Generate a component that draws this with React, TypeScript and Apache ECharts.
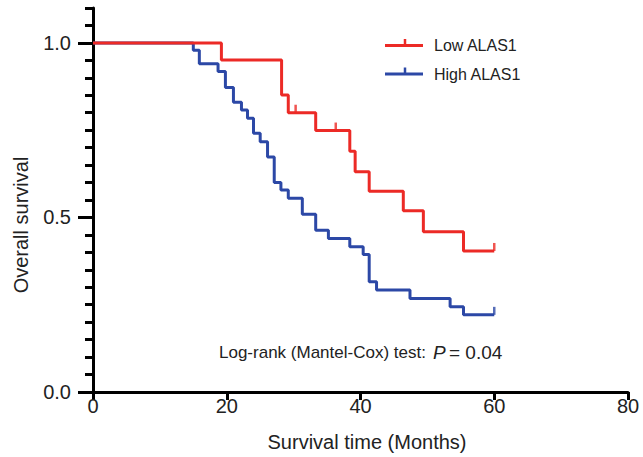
import React, { useEffect, useRef } from "react";
import * as echarts from "echarts";

// ---- Data ----
const seriesNames = ["Low ALAS1", "High ALAS1"];

const lowTimes = [0, 19.2, 28.2, 29.2, 33.3, 38.4, 39.2, 41.3, 46.4, 49.4, 55.4, 60];
const lowSurv = [1.0, 0.951, 0.851, 0.8, 0.749, 0.69, 0.631, 0.575, 0.519, 0.459, 0.404, 0.404];
const lowCensorTimes = [30.3, 36.3, 60];

const highTimes = [0, 15.0, 15.9, 18.7, 19.8, 21.0, 22.2, 23.1, 24.0, 25.0, 26.1, 27.1, 28.1, 29.2, 31.3, 33.3, 35.2, 38.4, 40.4, 41.3, 42.4, 47.4, 53.4, 55.4, 60];
const highSurv = [1.0, 0.979, 0.94, 0.918, 0.872, 0.83, 0.808, 0.784, 0.741, 0.717, 0.673, 0.6, 0.579, 0.555, 0.509, 0.463, 0.44, 0.416, 0.394, 0.316, 0.292, 0.268, 0.244, 0.221, 0.221];
const highCensorTimes = [60];

const xTicks = [0, 20, 40, 60, 80];
const yMajorTicks = [0, 0.5, 1.0];
const yMax = 1.1;
const yMinorStep = 0.05;

const annotationText = "Log-rank (Mantel-Cox) test:";
const pValueText = "0.04";

const RED = "#EC2A26";
const BLUE = "#2C48A6";
const FONT = "'Liberation Sans', Arial, Helvetica, sans-serif";

function survAt(times: number[], surv: number[], t: number) {
  let v = surv[0];
  for (let i = 0; i < times.length; i++) {
    if (times[i] <= t) v = surv[i];
  }
  return v;
}

export default function App() {
  const ref = useRef<HTMLDivElement>(null);

  useEffect(() => {
    if (!ref.current) return;
    const chart = echarts.init(ref.current, undefined, { renderer: "svg" });

    const lowData = lowTimes.map((t, i) => [t, lowSurv[i]]);
    const highData = highTimes.map((t, i) => [t, highSurv[i]]);
    const lowCensor = lowCensorTimes.map((t) => [t, survAt(lowTimes, lowSurv, t)]);
    const highCensor = highCensorTimes.map((t) => [t, survAt(highTimes, highSurv, t)]);

    const axisLine = { show: true, lineStyle: { color: "#000", width: 3 } };

    const option: any = {
      animation: false,
      textStyle: { fontFamily: FONT },
      grid: { left: 93, right: 15, top: 8, bottom: 65, containLabel: false },
      xAxis: {
        type: "value",
        min: xTicks[0],
        max: xTicks[xTicks.length - 1],
        interval: xTicks[1] - xTicks[0],
        axisLine,
        axisTick: { show: true, length: 8, lineStyle: { color: "#000", width: 3 } },
        axisLabel: { fontSize: 20, color: "#222", margin: 4, fontFamily: FONT },
        splitLine: { show: false },
        name: "Survival time (Months)",
        nameLocation: "middle",
        nameGap: 40,
        nameTextStyle: { fontSize: 20, color: "#222", fontFamily: FONT, padding: [0, 0, 0, 13] },
      },
      yAxis: [
        {
          type: "value",
          min: 0,
          max: yMax,
          interval: yMinorStep,
          position: "left",
          axisLine,
          axisTick: { show: true, length: 8, lineStyle: { color: "#000", width: 3 } },
          axisLabel: { show: false },
          splitLine: { show: false },
        },
        {
          type: "value",
          min: 0,
          max: yMax,
          position: "left",
          axisLine: { show: false },
          axisTick: {
            show: true,
            length: 15,
            customValues: yMajorTicks,
            lineStyle: { color: "#000", width: 3 },
          },
          axisLabel: {
            show: true,
            customValues: yMajorTicks,
            formatter: (v: number) => v.toFixed(1),
            fontSize: 20,
            color: "#222",
            margin: 22,
            fontFamily: FONT,
          },
          splitLine: { show: false },
        },
      ],
      series: [
        {
          name: seriesNames[1],
          type: "line",
          step: "end",
          data: highData,
          showSymbol: false,
          symbol: "none",
          lineStyle: { color: BLUE, width: 3 },
          itemStyle: { color: BLUE },
          z: 3,
        },
        {
          name: seriesNames[1] + " censored",
          type: "scatter",
          data: highCensor,
          symbol: "rect",
          symbolSize: [2.5, 8],
          symbolOffset: [0, -4],
          itemStyle: { color: BLUE },
          z: 3,
        },
        {
          name: seriesNames[0],
          type: "line",
          step: "end",
          data: lowData,
          showSymbol: false,
          symbol: "none",
          lineStyle: { color: RED, width: 3 },
          itemStyle: { color: RED },
          z: 4,
        },
        {
          name: seriesNames[0] + " censored",
          type: "scatter",
          data: lowCensor,
          symbol: "rect",
          symbolSize: [2.5, 8],
          symbolOffset: [0, -4],
          itemStyle: { color: RED },
          z: 4,
        },
      ],
      graphic: [
        // y-axis title
        {
          type: "text",
          x: 21,
          y: 225,
          rotation: Math.PI / 2,
          style: {
            text: "Overall survival",
            fontSize: 20,
            fill: "#222",
            fontFamily: FONT,
            align: "center",
            verticalAlign: "middle",
          },
        },
        // legend
        { type: "line", shape: { x1: 385, y1: 45.5, x2: 423, y2: 45.5 }, style: { stroke: RED, lineWidth: 3 } },
        { type: "line", shape: { x1: 405, y1: 39, x2: 405, y2: 45.5 }, style: { stroke: RED, lineWidth: 2.5 } },
        {
          type: "text",
          x: 434,
          y: 45,
          style: { text: seriesNames[0], fontSize: 16, fill: "#222", fontFamily: FONT, verticalAlign: "middle" },
        },
        { type: "line", shape: { x1: 385, y1: 74, x2: 423, y2: 74 }, style: { stroke: BLUE, lineWidth: 3 } },
        { type: "line", shape: { x1: 405, y1: 67.5, x2: 405, y2: 74 }, style: { stroke: BLUE, lineWidth: 2.5 } },
        {
          type: "text",
          x: 434,
          y: 74,
          style: { text: seriesNames[1], fontSize: 16, fill: "#222", fontFamily: FONT, verticalAlign: "middle" },
        },
        // annotation
        {
          type: "text",
          x: 219,
          y: 352,
          style: { text: annotationText, fontSize: 17, fill: "#222", fontFamily: FONT, verticalAlign: "middle" },
        },
        {
          type: "text",
          x: 433,
          y: 352,
          style: {
            text: "{p|P} {b|= " + pValueText + "}",
            verticalAlign: "middle",
            rich: {
              p: { fontSize: 19, fontStyle: "italic", fill: "#222", fontFamily: FONT },
              b: { fontSize: 19, fill: "#222", fontFamily: FONT },
            },
          },
        },
      ],
    };

    chart.setOption(option);
    return () => chart.dispose();
  }, []);

  return (
    <div
      ref={ref}
      style={{ position: "fixed", left: 0, top: 0, width: 643, height: 457, background: "#fff" }}
    />
  );
}
